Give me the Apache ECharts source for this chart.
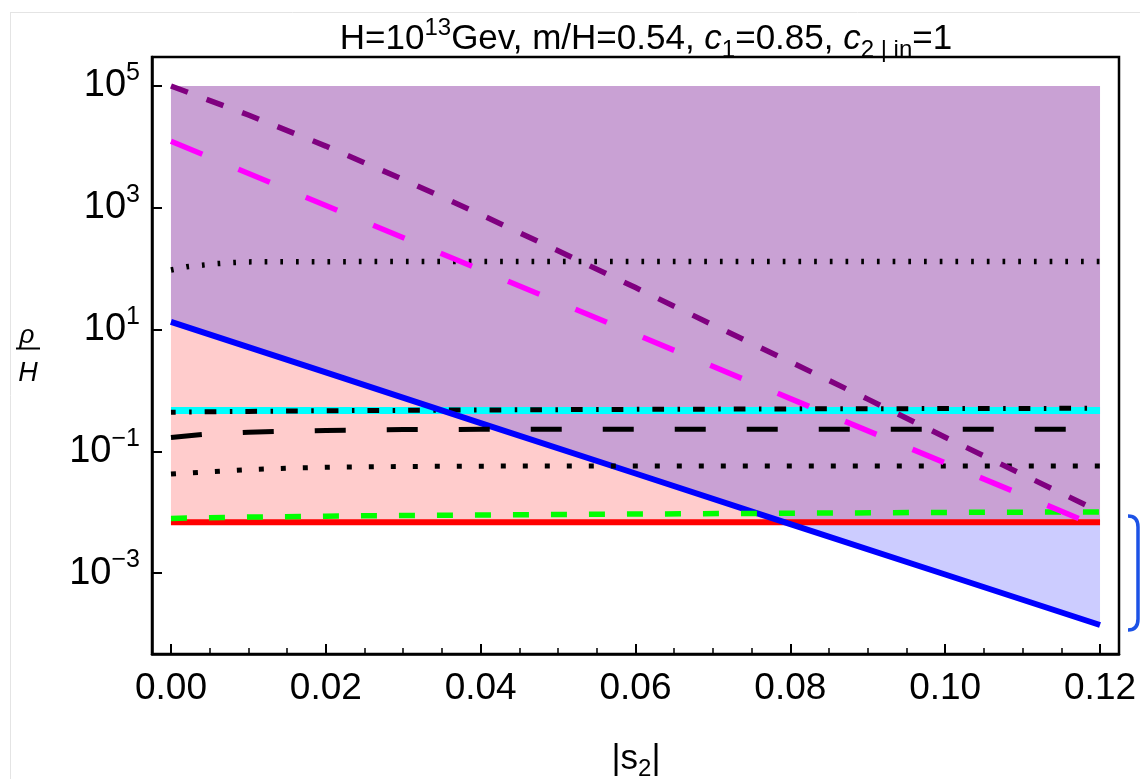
<!DOCTYPE html>
<html><head><meta charset="utf-8">
<script src="https://cdn.jsdelivr.net/npm/echarts@6/dist/echarts.min.js"></script>
<style>html,body{margin:0;padding:0;background:#fff}#c{width:1140px;height:779px}</style>
</head><body><div id="c"></div>
<script>
const FONT = "'Liberation Sans', Arial, Helvetica, sans-serif";

// ---- axes ticks ----
const xTicks = [0, 0.02, 0.04, 0.06, 0.08, 0.10, 0.12];
const xMinorTicks = [0.005, 0.01, 0.015, 0.025, 0.03, 0.035, 0.045, 0.05, 0.055, 0.065, 0.07, 0.075, 0.085, 0.09, 0.095, 0.105, 0.11, 0.115];
const yTicks = [1e-3, 1e-1, 1e1, 1e3, 1e5];

// ---- shaded regions (boundaries) ----
const regionX   = [0, 0.02, 0.04, 0.06, 0.08, 0.10, 0.12];
const regionTop = [1e5, 1e5, 1e5, 1e5, 1e5, 1e5, 1e5];
const blueY     = [13.3, 1.97, 0.291, 0.0431, 0.00638, 0.000946, 0.000140];
const redY      = [0.0068, 0.0068, 0.0068, 0.0068, 0.0068, 0.0068, 0.0068];

// ---- curves ----
const purpleX = [0, 0.01, 0.02, 0.03, 0.04, 0.05, 0.06, 0.07, 0.08, 0.09, 0.10, 0.11, 0.12];
const purpleY = [1e5, 3.34e4, 1.03e4, 2.91e3, 773, 196, 48.8, 11.9, 2.94, 0.718, 0.170, 0.0415, 0.0101];
const magentaX = [0, 0.02, 0.04, 0.06, 0.08, 0.10, 0.12];
const magentaY = [12400, 1086, 95.3, 8.36, 0.733, 0.0643, 0.00564];
const dotUpX = [0, 0.002, 0.004, 0.006, 0.008, 0.01, 0.015, 0.03, 0.06, 0.09, 0.12];
const dotUpY = [95, 107, 114, 121, 126, 129, 130, 130.5, 131, 131, 131];
const cyanX = [0, 0.12];
const cyanY = [0.467, 0.467];
const dashDotX = [0, 0.01, 0.02, 0.04, 0.06, 0.08, 0.10, 0.12];
const dashDotY = [0.438, 0.452, 0.463, 0.477, 0.488, 0.497, 0.503, 0.508];
const longDashX = [0, 0.005, 0.01, 0.02, 0.03, 0.04, 0.06, 0.08, 0.10, 0.12];
const longDashY = [0.169, 0.193, 0.206, 0.220, 0.227, 0.229, 0.229, 0.230, 0.230, 0.230];
const dotLowX = [0, 0.005, 0.01, 0.015, 0.02, 0.03, 0.04, 0.06, 0.08, 0.10, 0.12];
const dotLowY = [0.0423, 0.0462, 0.0500, 0.0528, 0.0546, 0.0562, 0.0570, 0.0573, 0.0574, 0.0575, 0.0575];
const greenX = [0, 0.01, 0.02, 0.04, 0.06, 0.08, 0.10, 0.12];
const greenY = [0.0079, 0.0083, 0.0086, 0.0090, 0.0093, 0.0096, 0.0099, 0.0101];

function pairs(xs, ys) { return xs.map((x, i) => [x, ys[i]]); }

function envelope(A, B, upper) {
  const out = [];
  for (let i = 0; i < A.length; i++) {
    const a = A[i], b = B[i];
    out.push(upper ? (a[1] <= b[1] ? a : b) : (a[1] >= b[1] ? a : b));
    if (i < A.length - 1) {
      const d0 = a[1] - b[1], d1 = A[i + 1][1] - B[i + 1][1];
      if (d0 * d1 < 0) {
        const t = d0 / (d0 - d1);
        out.push([a[0] + t * (A[i + 1][0] - a[0]), a[1] + t * (A[i + 1][1] - a[1])]);
      }
    }
  }
  return out;
}

function lineSeries(xs, ys, color, width, dash, z, offset) {
  return {
    type: 'line', data: pairs(xs, ys), showSymbol: false, symbol: 'none', silent: true,
    animation: false, z: z, clip: true,
    lineStyle: { color: color, width: width, type: dash || 'solid', cap: 'butt', join: 'round', dashOffset: offset || 0 }
  };
}

const fillSeries = {
  type: 'custom', data: [[0.06, 1]], silent: true, z: 1, clip: true, animation: false,
  renderItem: function (params, api) {
    const top = regionX.map((x, i) => api.coord([x, regionTop[i]]));
    const blue = regionX.map((x, i) => api.coord([x, blueY[i]]));
    const red = regionX.map((x, i) => api.coord([x, redY[i]]));
    const up = envelope(blue, red, true);
    const low = envelope(blue, red, false);
    return {
      type: 'group', children: [
        { type: 'polygon', shape: { points: top.concat(up.slice().reverse()) }, style: { fill: '#C9A1D4' } },
        { type: 'polygon', shape: { points: up.concat(red.slice().reverse()) }, style: { fill: '#FFCCCC' } },
        { type: 'polygon', shape: { points: red.concat(low.slice().reverse()) }, style: { fill: '#CCCCFF' } }
      ]
    };
  }
};

const XMIN = -0.00245, XMAX = 0.12245;
const chart = echarts.init(document.getElementById('c'), null, { renderer: 'canvas' });
const option = {
  animation: false,
  backgroundColor: '#ffffff',
  grid: { left: 152, right: 21, top: 57, bottom: 125, show: true, borderColor: '#000', borderWidth: 2.5, containLabel: false },
  xAxis: [{
    type: 'value', min: XMIN, max: XMAX,
    axisLine: { show: true, onZero: false, lineStyle: { color: '#000', width: 2.5 } },
    axisTick: { show: true, inside: true, length: 10, customValues: xTicks, lineStyle: { color: '#000', width: 2 } },
    axisLabel: { customValues: xTicks, margin: 16, color: '#000', fontSize: 37, fontFamily: FONT, formatter: v => v.toFixed(2) },
    splitLine: { show: false }
  }, {
    type: 'value', min: XMIN, max: XMAX, position: 'bottom',
    axisLine: { show: false, onZero: false },
    axisTick: { show: true, inside: true, length: 6, customValues: xMinorTicks, lineStyle: { color: '#000', width: 1.5 } },
    axisLabel: { show: false }, splitLine: { show: false }
  }],
  yAxis: {
    type: 'log', logBase: 10, min: Math.pow(10, -4.33), max: Math.pow(10, 5.476), position: 'left',
    axisLine: { show: true, onZero: false, lineStyle: { color: '#000', width: 2.5 } },
    axisTick: { show: true, inside: true, length: 10, customValues: yTicks, lineStyle: { color: '#000', width: 2 } },
    minorTick: { show: false },
    splitLine: { show: false },
    axisLabel: {
      customValues: yTicks, margin: 12,
      formatter: v => { const e = Math.round(Math.log10(v)); return '{b|10}{s|' + (e < 0 ? '\u2212' + (-e) : e) + '}'; },
      rich: {
        b: { fontSize: 38, fontFamily: FONT, color: '#000', lineHeight: 50 },
        s: { fontSize: 25, fontFamily: FONT, color: '#000', verticalAlign: 'top', lineHeight: 24 }
      }
    }
  },
  series: [
    fillSeries,
    lineSeries(regionX, redY, '#FF0000', 6, 'solid', 3),
    lineSeries(cyanX, cyanY, '#00FFFF', 7, 'solid', 3),
    lineSeries(dashDotX, dashDotY, '#000000', 5, [11.7, 13.5, 2.5, 13], 4, 7),
    lineSeries(regionX, blueY, '#0000FF', 6, 'solid', 5),
    lineSeries(longDashX, longDashY, '#000000', 5, [31, 41], 5),
    lineSeries(dotLowX, dotLowY, '#000000', 5, [5, 17], 5),
    lineSeries(dotUpX, dotUpY, '#000000', 5.5, [2.7, 13], 5),
    lineSeries(greenX, greenY, '#00FF00', 5.5, [16, 22], 6),
    lineSeries(magentaX, magentaY, '#FF00FF', 5.5, [34, 39], 7),
    lineSeries(purpleX, purpleY, '#800080', 5.5, [18, 20], 8)
  ],
  graphic: [
    { type: 'line', shape: { x1: 10, y1: 12.5, x2: 1140, y2: 12.5 }, style: { stroke: '#e4e4e4', lineWidth: 1 }, silent: true },
    { type: 'line', shape: { x1: 10.5, y1: 12, x2: 10.5, y2: 779 }, style: { stroke: '#e4e4e4', lineWidth: 1 }, silent: true },
    {
      type: 'text', x: 646, y: 39, silent: true,
      style: {
        text: '{n|H=10}{sup|13}{n|Gev, m/H=0.54, }{i|c}{sub|1}{n|=0.85, }{i|c}{sub|2}{bar| | }{sub|in}{n|=1}',
        align: 'center', verticalAlign: 'middle',
        rich: {
          n: { fontSize: 35, fontFamily: FONT, fill: '#000', lineHeight: 46 },
          i: { fontSize: 35, fontFamily: FONT, fontStyle: 'italic', fill: '#000', lineHeight: 46 },
          sup: { fontSize: 24, fontFamily: FONT, fill: '#000', verticalAlign: 'top', lineHeight: 22 },
          sub: { fontSize: 24, fontFamily: FONT, fill: '#000', verticalAlign: 'bottom', lineHeight: 32 },
          bar: { fontSize: 24, fontFamily: FONT, fill: '#000', verticalAlign: 'bottom', lineHeight: 32 }
        }
      }
    },
    {
      type: 'text', x: 636, y: 759, silent: true,
      style: {
        text: '{n||}{n|s}{sub|2}{n||}', align: 'center', verticalAlign: 'middle',
        rich: {
          n: { fontSize: 35, fontFamily: FONT, fill: '#000', lineHeight: 44 },
          sub: { fontSize: 24, fontFamily: FONT, fill: '#000', verticalAlign: 'bottom', lineHeight: 30 }
        }
      }
    },
    { type: 'text', x: 27, y: 336, silent: true, style: { text: 'ρ', fontSize: 26, fontFamily: FONT, fontStyle: 'italic', fill: '#000', align: 'center', verticalAlign: 'middle' } },
    { type: 'line', shape: { x1: 16, y1: 348.5, x2: 40, y2: 348.5 }, style: { stroke: '#000', lineWidth: 2 }, silent: true },
    { type: 'text', x: 28, y: 373, silent: true, style: { text: 'H', fontSize: 27, fontFamily: FONT, fontStyle: 'italic', fill: '#000', align: 'center', verticalAlign: 'middle' } },
    { type: 'bezierCurve', silent: true, shape: { x1: 1128, y1: 516, cpx1: 1134, cpy1: 516, cpx2: 1138, cpy2: 519, x2: 1138, y2: 527 }, style: { stroke: '#1c52e6', lineWidth: 3.5, fill: null } },
    { type: 'line', silent: true, shape: { x1: 1138, y1: 527, x2: 1138, y2: 619 }, style: { stroke: '#1c52e6', lineWidth: 3.5 } },
    { type: 'bezierCurve', silent: true, shape: { x1: 1138, y1: 619, cpx1: 1138, cpy1: 627, cpx2: 1134, cpy2: 630, x2: 1128, y2: 630 }, style: { stroke: '#1c52e6', lineWidth: 3.5, fill: null } }
  ]
};
chart.setOption(option);
</script></body></html>
